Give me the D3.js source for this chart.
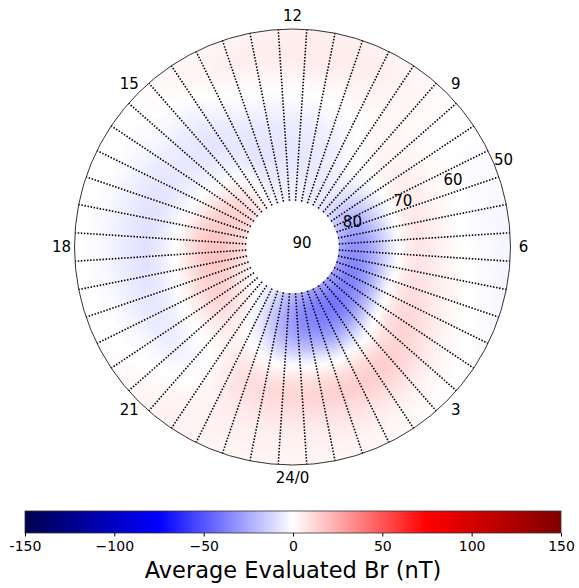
<!DOCTYPE html>
<html><head><meta charset="utf-8">
<script src="https://cdn.jsdelivr.net/npm/d3@7"></script>
<style>
body{margin:0;background:#fff}
svg{display:block}
text{font-family:"DejaVu Sans",sans-serif;fill:#000}
</style>
</head><body>
<svg id="chart" width="579" height="588"></svg>
<script>
// ---- data ----
// MLT bins (start hour of each 1-h sector)
const mltStarts = [0,1,2,3,4,5,6,7,8,9,10,11,12,13,14,15,16,17,18,19,20,21,22,23];
// latitude band centres (2 degree bands), from the pole outward
const latCenters = [81,79,77,75,73,71,69,67,65,63,61,59,57,55,53,51];
// Average evaluated Br (nT): one row per MLT sector, values per latitude band
const brValues = [
  [-25,-33,-36,-34,-28,-18,-6,4,10,13,12,9,7,5,4,3],
  [-30,-38,-40,-38,-32,-22,-8,3,10,14,14,11,8,6,4,3],
  [-30,-40,-42,-38,-28,-15,-3,6,12,15,14,11,7,4,2,1],
  [-30,-38,-38,-32,-20,-5,6,11,13,12,10,7,4,2,1,0],
  [-30,-38,-36,-28,-15,-2,7,10,10,8,5,3,1,0,-1,-2],
  [-30,-35,-33,-25,-14,-3,5,8,7,5,3,1,0,-1,-2,-3],
  [-25,-32,-30,-22,-12,-2,5,8,6,4,2,0,-1,-2,-2,-3],
  [-18,-24,-24,-17,-9,-1,4,6,5,3,2,1,0,-1,-1,-1],
  [-12,-15,-14,-10,-5,0,3,4,4,3,2,1,0,0,0,0],
  [-8,-8,-6,-4,-2,0,1,2,2,2,2,2,3,3,3,2],
  [-6,-6,-6,-6,-5,-5,-4,-3,-1,0,2,3,4,5,5,4],
  [-4,-5,-6,-7,-7,-7,-6,-5,-3,-1,1,3,5,6,6,5],
  [-3,-5,-6,-7,-8,-8,-7,-6,-4,-2,0,2,4,5,5,4],
  [-2,-4,-6,-7,-8,-8,-8,-7,-5,-3,-1,1,3,4,4,3],
  [5,6,5,2,-2,-5,-7,-8,-8,-7,-5,-3,-1,1,2,2],
  [10,12,12,8,3,-2,-5,-7,-7,-6,-5,-3,-2,-1,0,0],
  [12,15,16,14,9,2,-3,-6,-8,-8,-7,-5,-3,-1,0,0],
  [10,14,17,17,14,8,1,-4,-8,-9,-8,-6,-4,-2,-1,0],
  [10,15,18,18,15,9,2,-3,-7,-9,-8,-6,-4,-2,-1,0],
  [6,10,14,15,14,10,4,-1,-5,-7,-7,-5,-3,-1,0,0],
  [0,4,9,12,12,9,5,0,-3,-5,-5,-3,-1,0,1,2],
  [-4,0,3,5,6,6,4,2,0,-1,-1,0,2,3,4,4],
  [-8,-10,-10,-8,-4,0,4,7,9,9,8,6,5,4,4,3],
  [-18,-23,-25,-24,-20,-12,-3,5,10,12,10,8,6,4,4,3]
];
// MLT of the dotted meridian lines (centres of 0.5-h bins)
const meridianMLT = d3.range(48).map(i => 0.25 + 0.5 * i);
const mltTickValues = [0,3,6,9,12,15,18,21];
const mltTickLabels = ["24/0","3","6","9","12","15","18","21"];
const latTickValues = [90,80,70,60,50];
const latTickLabels = ["90","80","70","60","50"];
const cbTickValues = [-150,-100,-50,0,50,100,150];
const cbTickLabels = ["-150","\u2212100","\u221250","0","50","100","150"];
const cbLabel = "Average Evaluated Br (nT)";
const holeLat = 81.5;

// ---- layout ----
const svg = d3.select("#chart");
const cx = 292.5, cy = 247, R = 218;
const rScale = d3.scaleLinear().domain([90, 50]).range([0, R]);
const angle = m => (12 - m) * Math.PI / 12;   // clockwise from top
const color = d3.scaleLinear()
  .domain([-150, -75, 0, 75, 150])
  .range(["rgb(0,0,77)", "rgb(0,0,255)", "rgb(255,255,255)", "rgb(255,0,0)", "rgb(128,0,0)"])
  .clamp(true);

const defs = svg.append("defs");
defs.append("filter").attr("id", "smooth")
  .attr("x", "-5%").attr("y", "-5%").attr("width", "110%").attr("height", "110%")
  .append("feGaussianBlur").attr("stdDeviation", 1.2);
defs.append("clipPath").attr("id", "ring")
  .append("path")
  .attr("transform", `translate(${cx},${cy})`)
  .attr("d", d3.arc()({innerRadius: rScale(holeLat), outerRadius: R, startAngle: 0, endAngle: 2 * Math.PI}));

// ---- colour field: gouraud-style shading between the data cell centres ----
const mltCentres = mltStarts.map(m => m + 0.5);
const nM = mltCentres.length, nL = latCenters.length;
const mltIndex = d3.scaleLinear().domain([mltCentres[0], mltCentres[nM - 1]]).range([0, nM - 1]);
const latIndex = d3.scaleLinear().domain([latCenters[0], latCenters[nL - 1]]).range([0, nL - 1]).clamp(true);
function shade(m, lat) {
  let u = mltIndex(m);
  u = ((u % nM) + nM) % nM;
  const i0 = Math.floor(u), i1 = (i0 + 1) % nM, fu = u - i0;
  const w = latIndex(lat);
  const j0 = Math.min(Math.floor(w), nL - 1), j1 = Math.min(j0 + 1, nL - 1), fw = w - j0;
  const a = d3.interpolateNumber(brValues[i0][j0], brValues[i1][j0])(fu);
  const b = d3.interpolateNumber(brValues[i0][j1], brValues[i1][j1])(fu);
  return d3.interpolateNumber(a, b)(fw);
}
const dM = 0.2, dL = 0.5;
const sub = [];
for (let m = 0; m < 24 - 1e-9; m += dM) {
  for (let lat = 82.5; lat > 49.5 - 1e-9; lat -= dL) {
    sub.push({m0: m, m1: m + dM, l0: lat, l1: lat - dL, v: shade(m + dM / 2, lat - dL / 2)});
  }
}
const arc = d3.arc();
svg.append("g").attr("clip-path", "url(#ring)")
  .append("g").attr("filter", "url(#smooth)")
  .attr("transform", `translate(${cx},${cy})`)
  .selectAll("path").data(sub).join("path")
  .attr("d", d => {
    const a0 = angle(d.m1), a1 = angle(d.m0);
    return arc({innerRadius: Math.max(0, rScale(d.l0)), outerRadius: rScale(d.l1),
      startAngle: Math.min(a0, a1), endAngle: Math.max(a0, a1)});
  })
  .attr("fill", d => color(d.v))
  .attr("stroke", d => color(d.v)).attr("stroke-width", 0.5);

const g = svg.append("g").attr("transform", `translate(${cx},${cy})`);

// dotted meridian lines
g.append("g").selectAll("line").data(meridianMLT).join("line")
  .attr("x1", m => rScale(holeLat) * Math.sin(angle(m)))
  .attr("y1", m => -rScale(holeLat) * Math.cos(angle(m)))
  .attr("x2", m => R * Math.sin(angle(m)))
  .attr("y2", m => -R * Math.cos(angle(m)))
  .attr("stroke", "#000").attr("stroke-width", 1.6)
  .attr("stroke-dasharray", "1.5 1.6");

// outer circle
g.append("circle").attr("r", R).attr("fill", "none").attr("stroke", "#333").attr("stroke-width", 1);

// MLT labels
const rLab = R + 13;
g.append("g").selectAll("text").data(mltTickValues).join("text")
  .attr("x", m => rLab * Math.sin(angle(m)))
  .attr("y", m => -rLab * Math.cos(angle(m)))
  .attr("text-anchor", "middle").attr("dominant-baseline", "central")
  .attr("font-size", 15)
  .text((m, i) => mltTickLabels[i]);

// latitude labels
const rlabAng = (90 - 22.5) * Math.PI / 180;
g.append("g").selectAll("text").data(latTickValues).join("text")
  .attr("x", l => rScale(l) * Math.sin(rlabAng))
  .attr("y", l => -rScale(l) * Math.cos(rlabAng) + 1)
  .attr("text-anchor", "start")
  .attr("font-size", 15)
  .text((l, i) => latTickLabels[i]);

// ---- colour bar ----
const cbX = d3.scaleLinear().domain([-150, 150]).range([25, 561]);
const cbY = 511, cbH = 22;
const grad = defs.append("linearGradient").attr("id", "cbgrad");
d3.range(-150, 151, 15).forEach(v => {
  grad.append("stop").attr("offset", ((v + 150) / 300 * 100) + "%").attr("stop-color", color(v));
});
svg.append("rect").attr("x", cbX(-150)).attr("y", cbY).attr("width", cbX(150) - cbX(-150)).attr("height", cbH)
  .attr("fill", "url(#cbgrad)").attr("stroke", "#333").attr("stroke-width", 0.8);
const axis = d3.axisBottom(cbX).tickValues(cbTickValues).tickSize(3.5).tickPadding(5)
  .tickFormat((v, i) => cbTickLabels[i]);
const ax = svg.append("g").attr("transform", `translate(0,${cbY + cbH})`).call(axis);
ax.select(".domain").remove();
ax.selectAll("text").attr("font-size", 14).attr("font-family", "DejaVu Sans").attr("fill", "#000");
ax.selectAll("line").attr("stroke", "#000");
svg.append("text").attr("x", cbX(0)).attr("y", 578).attr("text-anchor", "middle")
  .attr("font-size", 22.5).text(cbLabel);
</script>
</body></html>
